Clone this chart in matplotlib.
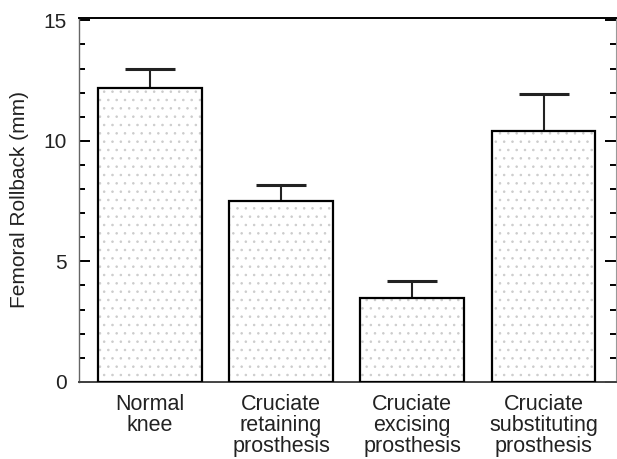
import numpy as np
import matplotlib
matplotlib.use("Agg")
import matplotlib.pyplot as plt
from matplotlib.ticker import MultipleLocator

# data
GROUPS = [
    "Normal\nknee",
    "Cruciate\nretaining\nprosthesis",
    "Cruciate\nexcising\nprosthesis",
    "Cruciate\nsubstituting\nprosthesis",
]
MEANS = [12.2, 7.5, 3.5, 10.4]
ERR_UP = [0.8, 0.65, 0.7, 1.55]

plt.rcParams["font.family"] = ["Liberation Sans", "DejaVu Sans"]
plt.rcParams["hatch.linewidth"] = 0.6

fig = plt.figure(figsize=(6.17, 4.59), dpi=100)
ax = fig.add_axes([0.128, 0.168, 0.870, 0.793])

x = np.arange(len(GROUPS))
w = 0.79

# stipple texture, then the outlined bar on top
ax.bar(x, MEANS, width=w, color="white", edgecolor="#cccccc",
       hatch="..", linewidth=0, zorder=2)
ax.bar(x, MEANS, width=w, color="none", edgecolor="black",
       linewidth=1.6, zorder=3)

# upper error only: hide the cap drawn at the bar top
eb = ax.errorbar(x, MEANS, yerr=[np.zeros(len(MEANS)), ERR_UP], fmt="none",
                 ecolor="#222222", elinewidth=1.5, capsize=18, capthick=2.2,
                 zorder=2)
for cap in eb[1]:
    if np.allclose(cap.get_ydata(), MEANS):
        cap.set_visible(False)

ax.set_xlim(-0.54, 3.55)
ax.set_ylim(0, 15.1)
ax.set_xticks(x)
ax.set_xticklabels(GROUPS, fontsize=15.5, linespacing=0.98, color="#222222")
ax.tick_params(axis="x", length=0, pad=9)

ax.yaxis.set_major_locator(MultipleLocator(5))
ax.yaxis.set_minor_locator(MultipleLocator(1))
ax.tick_params(axis="y", which="major", direction="in", length=8, width=1.4,
               labelsize=15, pad=9, right=True, labelcolor="#222222")
ax.tick_params(axis="y", which="minor", direction="in", length=4, width=1.4,
               right=True)
ax.set_ylabel("Femoral Rollback (mm)", fontsize=15, color="#222222",
              labelpad=10)

ax.spines["left"].set_color("#666666")
ax.spines["left"].set_linewidth(1.0)
ax.spines["right"].set_color("#999999")
ax.spines["right"].set_linewidth(0.8)
ax.spines["top"].set_linewidth(1.4)
ax.spines["bottom"].set_linewidth(1.4)
ax.spines["bottom"].set_color("#444444")

fig.savefig("out.png", dpi=100, facecolor="white")
